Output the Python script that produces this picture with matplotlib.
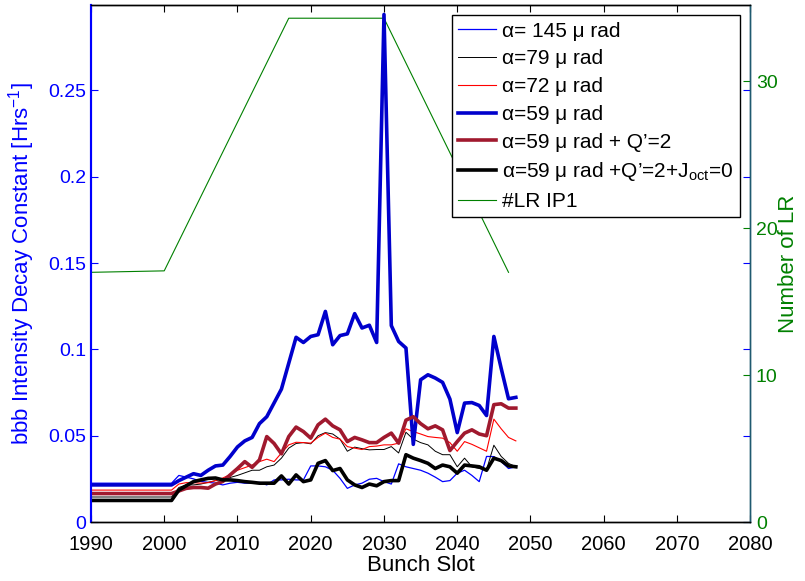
"""
bunch-by-bunch intensity decay constant vs bunch slot, with number of LR encounters
"""

import numpy as np
from matplotlib import pyplot as plt
from matplotlib.ticker import FormatStrFormatter

plt.rcParams['font.family'] = ['Liberation Sans', 'DejaVu Sans']
plt.rcParams['mathtext.fontset'] = 'custom'
plt.rcParams['mathtext.rm'] = 'Liberation Sans'
plt.rcParams['mathtext.it'] = 'Liberation Sans:italic'

# bunch slots: flat start at 1990, then one point per slot 2001..2048
slots = [1990] + list(range(2001, 2049))

a145 = [0.0225,
        0.0225, 0.027, 0.026, 0.025, 0.0235, 0.023, 0.0225, 0.0215, 0.0225, 0.023,
        0.0225, 0.0225, 0.023, 0.0215, 0.0244, 0.0244, 0.0248, 0.0244, 0.0244, 0.0325,
        0.0325, 0.032, 0.030, 0.0253, 0.0195, 0.0215, 0.0225, 0.0248, 0.0253, 0.0234,
        0.022, 0.0337, 0.032, 0.031, 0.030, 0.0283, 0.026, 0.0234, 0.024, 0.0283,
        0.030, 0.027, 0.0234, 0.038, 0.0379, 0.035, 0.031, 0.032]

a79 = [0.0145,
       0.0145, 0.020, 0.0215, 0.0215, 0.022, 0.023, 0.024, 0.025, 0.0258, 0.027,
       0.0285, 0.030, 0.030, 0.032, 0.033, 0.037, 0.0428, 0.0455, 0.046, 0.0453,
       0.050, 0.0518, 0.051, 0.048, 0.041, 0.0434, 0.0425, 0.0418, 0.042, 0.042,
       0.0437, 0.040, 0.052, 0.048, 0.046, 0.0447, 0.041, 0.039, 0.039, 0.032,
       0.037, 0.032, 0.031, 0.0303, 0.0445, 0.038, 0.034, 0.032]

a72 = [0.0185,
       0.0185, 0.022, 0.0228, 0.0228, 0.0225, 0.0228, 0.024, 0.0255, 0.0275, 0.030,
       0.0315, 0.033, 0.035, 0.0364, 0.035, 0.040, 0.0447, 0.0462, 0.046, 0.0457,
       0.049, 0.0515, 0.049, 0.048, 0.0437, 0.0428, 0.042, 0.0437, 0.044, 0.0447,
       0.0447, 0.0457, 0.054, 0.0524, 0.051, 0.0495, 0.049, 0.0486, 0.046, 0.041,
       0.0466, 0.045, 0.043, 0.041, 0.0596, 0.054, 0.049, 0.047]

a59 = [0.0215,
       0.0215, 0.024, 0.026, 0.028, 0.027, 0.030, 0.0325, 0.033, 0.038, 0.0435,
       0.047, 0.049, 0.057, 0.061, 0.069, 0.077, 0.092, 0.107, 0.104, 0.1075,
       0.1085, 0.122, 0.1027, 0.108, 0.109, 0.1207, 0.1124, 0.114, 0.104, 0.294,
       0.1138, 0.1046, 0.1008, 0.045, 0.0824, 0.0853, 0.0834, 0.0809, 0.0712, 0.0518,
       0.0689, 0.0692, 0.0675, 0.0617, 0.1075, 0.089, 0.0714, 0.0722]

a59_q2 = [0.0165,
          0.0165, 0.018, 0.0195, 0.020, 0.020, 0.0196, 0.022, 0.0235, 0.0273, 0.031,
          0.035, 0.0317, 0.036, 0.0495, 0.0455, 0.0395, 0.0495, 0.055, 0.0524, 0.0486,
          0.0563, 0.0596, 0.0557, 0.0534, 0.0466, 0.049, 0.0476, 0.046, 0.046, 0.049,
          0.0515, 0.0457, 0.059, 0.061, 0.057, 0.054, 0.0557, 0.0534, 0.0414, 0.0466,
          0.0515, 0.0534, 0.051, 0.050, 0.068, 0.0685, 0.066, 0.066]

a59_q2_oct0 = [0.0125,
               0.0125, 0.0185, 0.021, 0.0234, 0.0244, 0.0253, 0.0255, 0.0244, 0.0244, 0.024,
               0.0234, 0.023, 0.0225, 0.0225, 0.0225, 0.0267, 0.022, 0.0273, 0.0234, 0.0244,
               0.034, 0.0356, 0.0298, 0.031, 0.0244, 0.0215, 0.020, 0.022, 0.021, 0.0234,
               0.024, 0.024, 0.039, 0.037, 0.0356, 0.034, 0.031, 0.033, 0.032, 0.0283,
               0.033, 0.0325, 0.032, 0.030, 0.037, 0.0356, 0.0325, 0.032]

lr_slots = [1990, 2000, 2017, 2030, 2047]
lr_ip1 = [17, 17.1, 34.3, 34.3, 17]

BLUE = '#0000ff'
GREEN = '#008000'

fig = plt.figure(figsize=(8.05, 5.81), dpi=100)
ax1 = fig.add_axes([0.113, 0.1015, 0.819, 0.8899])
ax2 = ax1.twinx()

# green LR count underneath
ax2.plot(lr_slots, lr_ip1, color=GREEN, lw=0.8, label='#LR IP1')
ax2.set_ylim(0, 35.2)
ax2.set_yticks([0, 10, 20, 30])
ax2.set_ylabel('Number of LR', color=GREEN, fontsize=16, labelpad=0)
ax2.tick_params(axis='y', colors=GREEN, direction='in', labelsize=14, length=5, pad=4)
ax2.yaxis.set_major_formatter(FormatStrFormatter('%g'))

lines = []
lines += ax1.plot(slots, a145, color=BLUE, lw=0.9, label='α= 145 μ rad')
lines += ax1.plot(slots, a79, color='black', lw=0.7, label='α=79 μ rad')
lines += ax1.plot(slots, a72, color='#ff0000', lw=0.8, label='α=72 μ rad')
lines += ax1.plot(slots, a59, color='#0000cc', lw=2.6, label='α=59 μ rad')
lines += ax1.plot(slots, a59_q2, color='#a0192e', lw=2.6, label='α=59 μ rad + Q’=2')
lines += ax1.plot(slots, a59_q2_oct0, color='black', lw=2.6,
                  label='α=59 μ rad +Q’=2+J$_{\\mathrm{oct}}$=0')
ax1.set_zorder(ax2.get_zorder() + 1)
ax1.patch.set_visible(False)

ax1.set_xlim(1990, 2080)
ax1.set_ylim(0, 0.2995)
ax1.set_xticks(np.arange(1990, 2081, 10))
ax1.set_yticks([0, 0.05, 0.1, 0.15, 0.2, 0.25])
ax1.yaxis.set_major_formatter(FormatStrFormatter('%g'))
ax1.tick_params(axis='x', direction='in', top=True, labelsize=14.5, length=5, pad=9)
ax1.tick_params(axis='y', direction='in', right=True, colors=BLUE, labelsize=14, length=5)
ax1.set_xlabel('Bunch Slot', fontsize=16, labelpad=1)
ax1.set_ylabel('bbb Intensity Decay Constant [Hrs$^{-1}$]', color=BLUE, fontsize=16,
               labelpad=8)

for ax in (ax1, ax2):
    for s in ax.spines.values():
        s.set_linewidth(1.0)
ax1.spines['left'].set_color(BLUE)
ax2.spines['left'].set_color(BLUE)
ax1.spines['left'].set_linewidth(1.5)
ax2.spines['left'].set_linewidth(1.5)
ax1.spines['right'].set_color('#1f5a70')
ax2.spines['right'].set_color('#1f5a70')

handles = lines + ax2.get_lines()
leg = ax1.legend(handles, [h.get_label() for h in handles], loc='upper right',
                 fontsize=15, fancybox=False, framealpha=1, edgecolor='black',
                 handlelength=1.8, labelspacing=0.42, borderaxespad=0.5,
                 borderpad=0.3, handletextpad=0.3)
leg.get_frame().set_linewidth(1.0)

plt.savefig('out.png', dpi=100)
